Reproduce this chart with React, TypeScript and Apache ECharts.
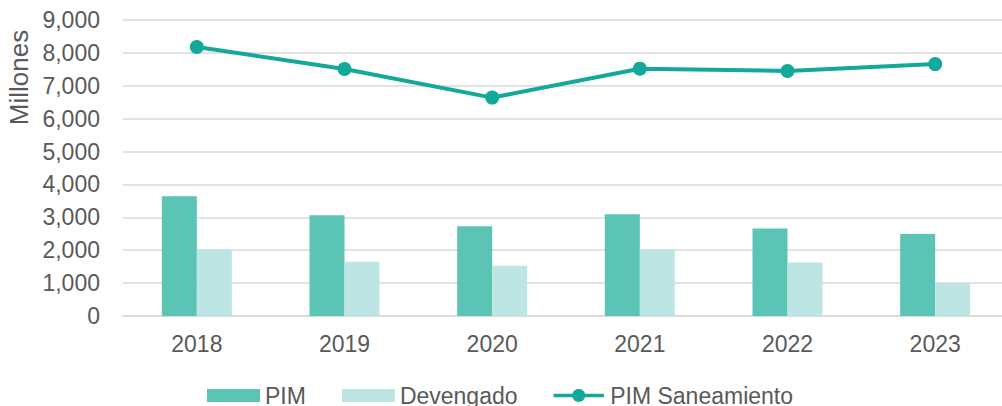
import React, { useEffect, useRef } from "react";
import * as echarts from "echarts";

const categories = ["2018", "2019", "2020", "2021", "2022", "2023"];
const pimValues = [3640, 3060, 2730, 3090, 2660, 2490];
const devengadoValues = [2030, 1650, 1530, 2020, 1630, 1000];
const saneamientoValues = [8180, 7510, 6640, 7520, 7450, 7660];

const FONT = "'Liberation Sans', Arial, sans-serif";
const TEXT = "#595959";
const LINE_ICON =
  "path://M0,5 H20.3 A7,7 0 0 1 33.7,5 H54 V9 H33.7 A7,7 0 0 1 20.3,9 H0 Z";

export default function App() {
  const ref = useRef<HTMLDivElement>(null);
  useEffect(() => {
    document.body.style.margin = "0";
    const chart = echarts.init(ref.current!, null, { renderer: "svg" });
    chart.setOption({
      animation: false,
      backgroundColor: "#ffffff",
      textStyle: { fontFamily: FONT },
      grid: { left: 123, top: 20, right: 0, height: 296, containLabel: false },
      legend: {
        top: 384,
        left: 207,
        padding: 0,
        itemWidth: 53,
        itemHeight: 13,
        itemGap: 36,
        textStyle: { fontSize: 23, color: TEXT, fontFamily: FONT },
        data: [
          { name: "PIM", icon: "rect" },
          { name: "Devengado", icon: "rect" },
          { name: "PIM Saneamiento", icon: LINE_ICON },
        ],
      },
      graphic: [
        {
          type: "text",
          x: 19,
          y: 77.5,
          rotation: Math.PI / 2,
          style: {
            text: "Millones",
            fontSize: 26,
            fontFamily: FONT,
            fill: TEXT,
            align: "center",
            verticalAlign: "middle",
          },
        },
      ],
      xAxis: {
        type: "category",
        data: categories,
        axisTick: { show: false },
        axisLine: { lineStyle: { color: "#D9D9D9", width: 1.5 } },
        axisLabel: { fontSize: 23, color: TEXT, margin: 16, fontFamily: FONT },
      },
      yAxis: {
        type: "value",
        min: 0,
        max: 9000,
        interval: 1000,
        axisLabel: {
          fontSize: 23,
          color: TEXT,
          margin: 23,
          fontFamily: FONT,
          formatter: (v: number) => v.toLocaleString("en-US"),
        },
        splitLine: { lineStyle: { color: "#D9D9D9", width: 1.5 } },
        axisLine: { show: false },
        axisTick: { show: false },
      },
      series: [
        {
          name: "PIM",
          type: "bar",
          data: pimValues,
          barWidth: 35,
          barGap: "0%",
          itemStyle: { color: "#5BC4B5" },
        },
        {
          name: "Devengado",
          type: "bar",
          data: devengadoValues,
          barWidth: 35,
          barGap: "0%",
          itemStyle: { color: "#BDE5E4" },
        },
        {
          name: "PIM Saneamiento",
          type: "line",
          data: saneamientoValues,
          symbol: "circle",
          symbolSize: 14,
          lineStyle: { color: "#12A89A", width: 4 },
          itemStyle: { color: "#12A89A" },
        },
      ],
    });
    return () => chart.dispose();
  }, []);
  return (
    <div style={{ width: 1002, height: 406, overflow: "hidden", position: "relative" }}>
      <div ref={ref} style={{ width: 1009, height: 406 }} />
    </div>
  );
}
